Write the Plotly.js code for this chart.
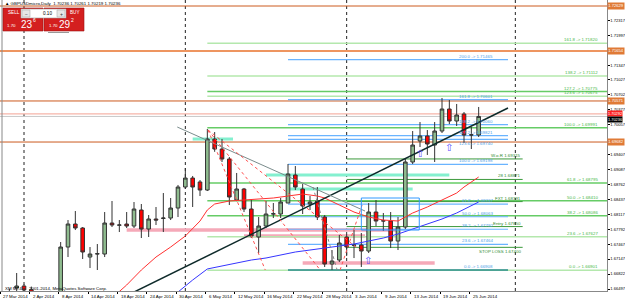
<!DOCTYPE html>
<html><head><meta charset="utf-8">
<script src="https://cdn.plot.ly/plotly-3.0.1.min.js"></script>
<style>html,body{margin:0;padding:0;background:#fff;overflow:hidden}#chart{width:625px;height:300px}</style>
</head><body><div id="chart"></div>
<script>
// ---------- DATA ----------
const barDates = ['27 Mar','28 Mar','31 Mar','1 Apr','2 Apr','3 Apr','4 Apr','7 Apr','8 Apr','9 Apr','10 Apr','11 Apr','14 Apr','15 Apr','16 Apr','17 Apr','18 Apr','21 Apr','22 Apr','23 Apr','24 Apr','25 Apr','28 Apr','29 Apr','30 Apr','1 May','2 May','5 May','6 May','7 May','8 May','9 May','12 May','13 May','14 May','15 May','16 May','19 May','20 May','21 May','22 May','23 May','26 May','27 May','28 May','29 May','30 May','2 Jun','3 Jun','4 Jun','5 Jun','6 Jun','9 Jun','10 Jun','11 Jun','12 Jun','13 Jun','16 Jun','17 Jun','18 Jun','19 Jun','20 Jun','23 Jun','24 Jun','25 Jun','26 Jun'];
const openP  = [1.6620,1.6635,1.66519,1.66562,1.6648,1.6625,1.6600,1.6570,1.6585,1.67407,1.67905,1.67819,1.67190,1.67255,1.67255,1.67927,1.67880,1.67905,1.67862,1.68209,1.67797,1.68014,1.68025,1.68035,1.68252,1.68707,1.68902,1.68816,1.68642,1.69747,1.69530,1.69314,1.68425,1.68664,1.68230,1.67624,1.67862,1.68122,1.68122,1.68360,1.68967,1.68664,1.68339,1.68404,1.68057,1.67039,1.67125,1.67624,1.67445,1.67450,1.67320,1.68165,1.67970,1.67970,1.67537,1.67840,1.69249,1.69704,1.69812,1.69617,1.69920,1.70397,1.70137,1.70289,1.69834,1.69834];
const highP  = [1.6645,1.6650,1.66844,1.66600,1.6655,1.6635,1.6610,1.6600,1.67515,1.67992,1.68187,1.67840,1.67407,1.67472,1.68165,1.68404,1.67992,1.68165,1.68382,1.68339,1.68100,1.68274,1.68577,1.68469,1.68751,1.69119,1.68946,1.68859,1.69964,1.69898,1.69747,1.69357,1.69011,1.68686,1.68425,1.68057,1.68404,1.68360,1.68469,1.69205,1.69162,1.68772,1.68512,1.68707,1.68100,1.67342,1.67670,1.67732,1.67775,1.67710,1.68360,1.68425,1.68144,1.68165,1.68057,1.69335,1.69920,1.70115,1.69942,1.70115,1.70636,1.70592,1.70506,1.70332,1.70007,1.70441];
const lowP   = [1.6600,1.6610,1.6630,1.6635,1.6620,1.6595,1.6560,1.6555,1.6575,1.67190,1.67775,1.67147,1.66952,1.66909,1.67190,1.67840,1.67732,1.67819,1.67819,1.67602,1.67624,1.67884,1.67732,1.67992,1.68057,1.68664,1.68274,1.68512,1.68620,1.69470,1.69249,1.68317,1.68400,1.68165,1.67602,1.67277,1.67819,1.68035,1.68035,1.68360,1.68642,1.68122,1.68209,1.67992,1.66974,1.66909,1.67082,1.67212,1.67168,1.66974,1.67277,1.67862,1.67754,1.67385,1.67342,1.67797,1.69205,1.69574,1.69401,1.69249,1.69877,1.70072,1.70029,1.69660,1.69530,1.69790];
const closeP = [1.6635,1.6640,1.66562,1.66476,1.6625,1.6600,1.6570,1.6585,1.67407,1.67905,1.67819,1.67299,1.67255,1.67262,1.67927,1.67884,1.67884,1.67862,1.68230,1.67797,1.68014,1.67992,1.68035,1.68252,1.68707,1.68902,1.68707,1.68642,1.69747,1.69530,1.69314,1.68490,1.68664,1.68230,1.67645,1.67862,1.68122,1.68128,1.68382,1.68989,1.68707,1.68295,1.68382,1.68057,1.67039,1.67104,1.67494,1.67407,1.67450,1.67320,1.68165,1.67970,1.67975,1.67537,1.67840,1.69249,1.69617,1.69812,1.69639,1.69920,1.70397,1.70137,1.70267,1.69834,1.69838,1.70236];

const maRedX = [14,15,17,19,21,23,25,27,28,29,31,33,35,37,39,41,43,44,46,48,50,52,54,56,58,60,62,63,64,65];
const maRedY = [1.66259,1.66302,1.66584,1.66909,1.67190,1.67407,1.67645,1.67970,1.68209,1.68339,1.68404,1.68425,1.68447,1.68469,1.68512,1.68555,1.68512,1.68469,1.68317,1.68165,1.68057,1.67992,1.67970,1.68144,1.68274,1.68425,1.68577,1.68707,1.68816,1.68924];
const maBlueX = [22,24,26,28,30,32,34,36,38,40,42,44,46,48,50,52,54,56,58,60,62,64,65];
const maBlueY = [1.66259,1.66432,1.66692,1.66931,1.66996,1.67061,1.67125,1.67169,1.67234,1.67299,1.67342,1.67385,1.67429,1.67472,1.67537,1.67602,1.67689,1.67797,1.67905,1.68014,1.68144,1.68296,1.68382];

const trendUpX = [15.8, 69.0],  trendUpY = [1.66259, 1.70419];
const trendDnX = [23.9, 49.5],  trendDnY = [1.70007, 1.68187];
const fanX0 = [28.1, 28.1, 28.1, 46.1], fanY0 = [1.69942, 1.69942, 1.69942, 1.66909];
const fanX1 = [35.9, 43.4, 48.8, 49.1], fanY1 = [1.66909, 1.66909, 1.67342, 1.68317];
const grayDotX = [42.4, 45.7], grayDotY = [1.68707, 1.66909];
const boxX = [49.0, 56.9], boxY = [1.67775, 1.68469];

const levelsFull = [1.72629, 1.71654, 1.70571, 1.69682];
const askPrice = 1.70292, bidPrice = 1.70236;

const fibGreenLevels = ['0.0','23.6','38.2','50.0','61.8','100.0','123.6','127.2','138.2','161.8'];
const fibGreenPrices = [1.66901,1.67627,1.68086,1.68410,1.68795,1.69991,1.70675,1.70775,1.71112,1.71820];
const fibGreenFrom = 28;

const fibBlueLevels = ['0.0','23.6','38.2','50.0','61.8','100.0','123.6','127.2','138.2','161.8','200.0'];
const fibBluePrices = [1.66908,1.67464,1.67792,1.68063,1.68337,1.69198,1.69740,1.69821,1.70060,1.70601,1.71465];
const fibBlueFrom = 39, fibBlueTo = 69;

const tradeNames  = ['W.o.R','28','FXT','Entry','STOP LOSS'];
const tradePrices = [1.69315,1.68871,1.68391,1.67850,1.67400];
const tradeFrom = 47, tradeTo = 71;

const mintPrices = [1.69747,1.68967,1.68664], mintFrom = [26,36,39], mintTo = [31.5,61,56];
const pinkPrices = [1.67775,1.67645,1.67061], pinkFrom = [17,33,41], pinkTo = [54.3,49.5,59];

const separators = [3, 25, 47, 70];
const arrowX = [49.9, 57.0, 61.0], arrowY = [1.67125, 1.69444, 1.69574];

const yTicks = [1.66497,1.66822,1.67147,1.67467,1.67792,1.68117,1.68437,1.68762,1.69087,1.69407,1.69732,1.70057,1.70377,1.70702,1.71027,1.71347,1.71672,1.71997,1.72317,1.72642];

// ---------- BUILD ----------
const idx = barDates.map((d,i)=>i);
const tickIdx = idx.filter(i=>i%4===0);
const xRange = [-0.2727, 82.5];
const yRange = [1.66454, 1.72759];
const F = 'Liberation Sans, Arial, sans-serif';
const W = 607, H = 291;
const px = x => x / W, py = y => 1 - y / H;

const traces = [];
traces.push({type:'scatter',mode:'lines',x:maRedX,y:maRedY,line:{color:'#ff3030',width:1},hoverinfo:'skip'});
traces.push({type:'scatter',mode:'lines',x:maBlueX,y:maBlueY,line:{color:'#3535ff',width:1},hoverinfo:'skip'});
traces.push({type:'scatter',mode:'lines',x:trendUpX,y:trendUpY,line:{color:'#0e2a2a',width:1.5},hoverinfo:'skip'});
traces.push({type:'scatter',mode:'lines',x:trendDnX,y:trendDnY,line:{color:'#7a8c8c',width:1},hoverinfo:'skip'});
for (let k=0;k<fanX0.length;k++) traces.push({type:'scatter',mode:'lines',x:[fanX0[k],fanX1[k]],y:[fanY0[k],fanY1[k]],line:{color:'#ff5050',width:1,dash:'dot'},hoverinfo:'skip'});
traces.push({type:'scatter',mode:'lines',x:grayDotX,y:grayDotY,line:{color:'#888',width:1,dash:'dot'},hoverinfo:'skip'});
traces.push({type:'scatter',mode:'lines',x:[boxX[0],boxX[1],boxX[1],boxX[0],boxX[0]],y:[boxY[0],boxY[0],boxY[1],boxY[1],boxY[0]],line:{color:'#3399ff',width:1},hoverinfo:'skip'});
traces.push({type:'candlestick',x:idx,open:openP,high:highP,low:lowP,close:closeP,
  increasing:{line:{color:'#333',width:1},fillcolor:'#8fbc8f'},
  decreasing:{line:{color:'#333',width:1},fillcolor:'#ff0000'},
  whiskerwidth:0,hoverinfo:'skip'});

const shapes = [];
const hl = (x0,x1,y,color,width,layer) => shapes.push({type:'line',xref:'x',yref:'y',x0,x1,y0:y,y1:y,line:{color,width},layer:layer||'below'});
levelsFull.forEach((p,k)=>hl(xRange[0],xRange[1],p,k===1?'#ee9560':'#cc5a1e',k===1?2:1));
hl(xRange[0],xRange[1],askPrice,'#f6b4a8',1.2);
hl(xRange[0],xRange[1],bidPrice,'#c8c8c8',1);
pinkPrices.forEach((p,k)=>hl(pinkFrom[k],pinkTo[k],p,'#f5a9b8',3.5));
mintPrices.forEach((p,k)=>hl(mintFrom[k],mintTo[k],p,'#84f0cf',3));
const lightG = ['0.0','23.6','123.6','138.2','161.8'];
fibGreenPrices.forEach((p,k)=>hl(fibGreenFrom,xRange[1],p,lightG.includes(fibGreenLevels[k])?'#b4e8ad':'#66cc66',1.5));
fibBluePrices.forEach((p,k)=>hl(fibBlueFrom,fibBlueTo,p,k===0?'#2a8c8c':'#6ab4ff',k===0?1.5:1.2));
tradePrices.forEach((p)=>hl(tradeFrom,tradeTo,p,'#3c9a3c',1));
separators.forEach(s=>shapes.push({type:'line',xref:'x',yref:'paper',x0:s,x1:s,y0:0,y1:1,line:{color:'#222',width:1,dash:'dot'},layer:'below'}));
shapes.push({type:'line',xref:'paper',yref:'paper',x0:px(2),x1:px(2),y0:0,y1:1,line:{color:'#888',width:1}});
const rect = (x0,y0,x1,y1,fill,line) => shapes.push({type:'rect',xref:'paper',yref:'paper',x0:px(x0),x1:px(x1),y0:py(y1),y1:py(y0),fillcolor:fill,line:{color:line||fill,width:0.6},layer:'above'});
rect(3,8,43,31,'#d41f1f','#9a1010');
rect(44,8,84,31,'#d41f1f','#9a1010');
rect(21,9,66,18,'#ffffff','#9a9a9a');
rect(22,10,30,17,'#e6e6e6','#b0b0b0');
rect(57,10,65,17,'#e6e6e6','#b0b0b0');
shapes.push({type:'line',xref:'paper',yref:'paper',x0:px(48),x1:px(69),y0:py(32.5),y1:py(32.5),line:{color:'#999',width:1}});

const ann = [];
const txt = (x,y,t,size,color,anchor) => ann.push({xref:'paper',yref:'paper',x:px(x),y:py(y),text:t,showarrow:false,xanchor:anchor||'left',yanchor:'middle',font:{family:F,size,color}});
txt(3,3.5,'▲ GBPUSDmicro,Daily  1.70236 1.70261 1.70219 1.70236',4.4,'#000');
txt(6,13,'SELL',4.6,'#fff');
txt(68,13,'BUY',4.6,'#fff');
txt(26,13.5,'−',5,'#333','center');
txt(61,13.5,'+',5,'#333','center');
txt(47,13.5,'0.10',4.6,'#000','center');
txt(5,25,'1.70',4.4,'#fff');
txt(19,24,'23',10,'#fff');
txt(31,20,'6',5,'#fff');
txt(47,25,'1.70',4.4,'#fff');
txt(57,24,'29',10,'#fff');
txt(69,20,'2',5,'#fff');
txt(3,288,'XM MT4',4.4,'#000');
txt(27,288,'2001-2014, MetaQuotes Software Corp.',4.4,'#000');

tickIdx.forEach(i=>ann.push({xref:'x',yref:'paper',x:i-0.25,y:py(296),text:barDates[i]+' 2014',showarrow:false,xanchor:'left',yanchor:'middle',xshift:1,font:{family:F,size:4.4,color:'#000'}}));

const lab = (x,y,t,color,below) => ann.push({xref:'x',yref:'y',x,y,text:t,showarrow:false,xanchor:'right',yanchor:below?'top':'bottom',yshift:below?0:-1,font:{family:F,size:4.4,color}});
fibGreenPrices.forEach((p,k)=>lab(81.6,p,fibGreenLevels[k]+' -> '+p.toFixed(5),'#48b848'));
fibBluePrices.forEach((p,k)=>lab(fibBlueTo-1.8,p,fibBlueLevels[k]+' -> '+p.toFixed(5),'#4a9ee8',fibBlueLevels[k]==='123.6'));
tradePrices.forEach((p,k)=>lab(tradeTo,p,tradeNames[k]+' '+p.toFixed(5),'#2e8b2e',tradeNames[k]==='STOP LOSS'));
arrowX.forEach((x,k)=>ann.push({xref:'x',yref:'y',x,y:arrowY[k],text:'⇧',showarrow:false,font:{family:'DejaVu Sans',size:10,color:'#5a4cff'}}));
const boxes = [];
const box = (p,shown,bg,sz) => { boxes.push(p); ann.push({xref:'paper',yref:'y',x:1,y:shown,xanchor:'left',yanchor:'middle',text:p.toFixed(5),showarrow:false,bgcolor:bg,borderpad:sz?0:0.3,font:{family:F,size:sz||4.1,color:'#fff'},xshift:0}); };
levelsFull.forEach(p=>box(p,p,'#e07a36'));
box(askPrice,askPrice-0.00002,'#ff2020',3.9);
box(bidPrice,bidPrice-0.00072,'#000000',3.9);
const yTicksShown = yTicks.filter(v=>!boxes.some(b=>Math.abs(b-v)<0.0006));

const layout = {
  width:625,height:300,margin:{l:0,r:18,t:0,b:9},
  paper_bgcolor:'#fff',plot_bgcolor:'#fff',showlegend:false,
  xaxis:{range:xRange,tickvals:tickIdx.map(i=>i-0.25),showticklabels:false,
    ticks:'outside',ticklen:2,tickcolor:'#000',showline:true,linecolor:'#888',linewidth:1,
    showgrid:false,zeroline:false,rangeslider:{visible:false}},
  yaxis:{side:'right',range:yRange,tickvals:yTicksShown,ticktext:yTicksShown.map(v=>v.toFixed(5)),
    ticks:'outside',ticklen:1.5,tickcolor:'#000',tickfont:{family:F,size:4.1,color:'#000'},
    showline:true,linecolor:'#888',linewidth:1,showgrid:false,zeroline:false},
  shapes, annotations:ann
};
Plotly.newPlot('chart',traces,layout,{staticPlot:true,displayModeBar:false});
</script></body></html>
